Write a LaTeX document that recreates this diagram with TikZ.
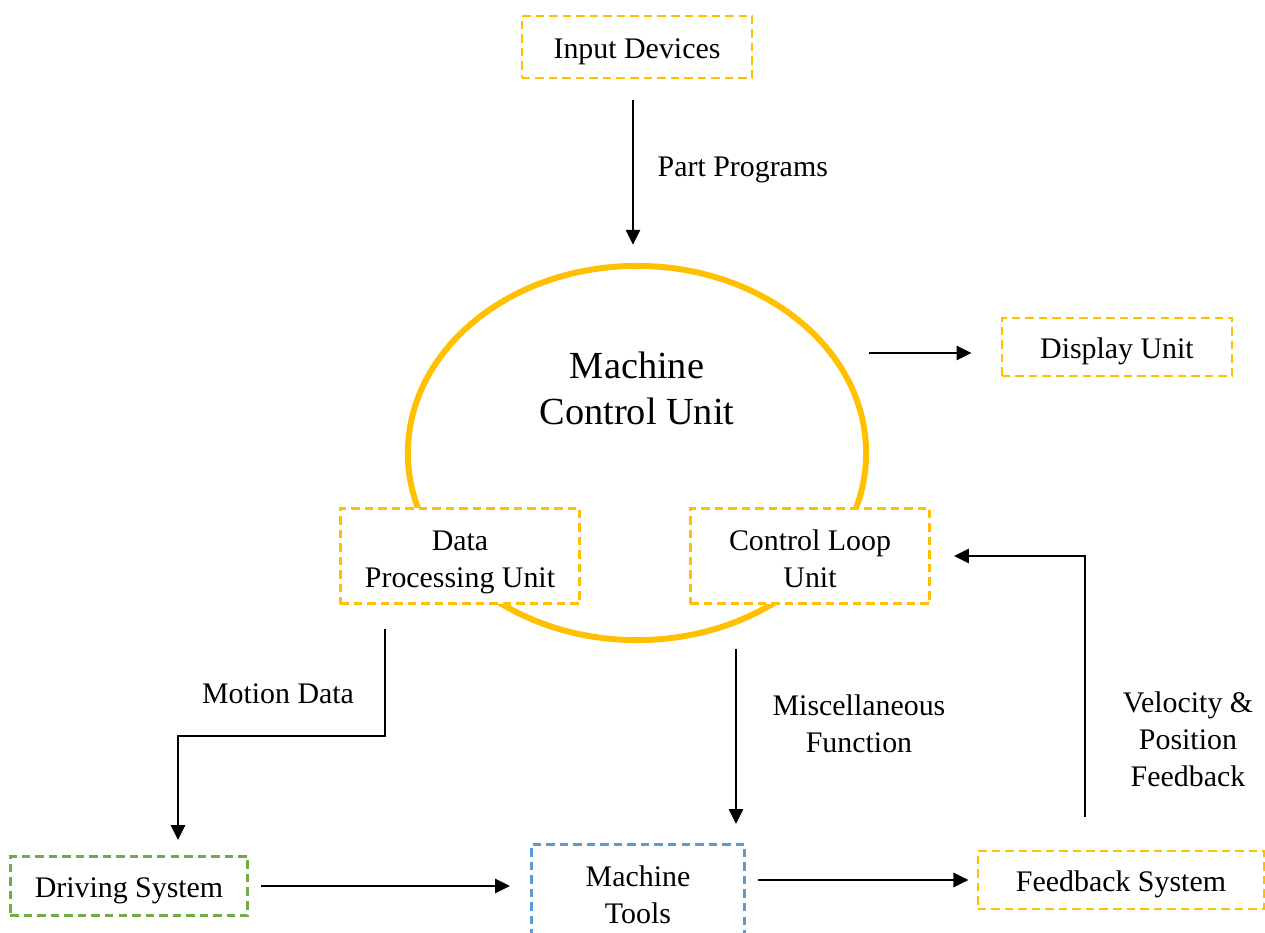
\documentclass[tikz,border=0pt]{standalone}
\usepackage{fontspec}
\setmainfont{Liberation Serif}
\usepackage{xcolor}
\usepackage{tikz}
\usetikzlibrary{positioning,shapes.geometric,arrows.meta}
\definecolor{gold}{HTML}{FFC000}
\definecolor{leaf}{HTML}{70AD47}
\definecolor{sky}{HTML}{5B9BD5}
% raises the first line of a stacked label so the block sits lower in its box
\newcommand{\capstrut}[1]{\rule{0pt}{#1}}

\begin{document}
\begin{tikzpicture}[
        x=0.01cm, y=-0.01cm,
        every node/.style={
            align=center,
            inner sep=0pt,
            font=\fontsize{8.5}{10.5}\selectfont
        },
        unit/.style={
            rectangle,
            draw=gold,
            line width=0.8pt,
            dash pattern=on 0.085cm off 0.05cm,
            fill=white,
            execute at begin node={\capstrut{8.1pt}}
        },
        arrow/.style={
            -{Triangle[length=0.15cm,width=0.14cm]},
            line width=0.75pt,
            color=black
        }
    ]
        \useasboundingbox (0,0) rectangle (1265,933);

        \node (mcu) [ellipse, draw=gold, line width=1.7pt, minimum width=4.58cm, minimum height=3.74cm] at (637,453) {};
        \node (mcutext) [font=\fontsize{10.9}{13.1}\selectfont] at (637,388) {Machine\\Control Unit};

        \node (input) [unit, minimum width=2.3cm, minimum height=0.62cm] at (637,47) {Input Devices};
        \node (display) [unit, minimum width=2.3cm, minimum height=0.58cm] at (1117,347) {Display Unit};
        \node (dpu) [unit, minimum width=2.39cm, minimum height=0.95cm] at (460,556) {\capstrut{9.4pt}Data\\Processing Unit};
        \node (clu) [unit, minimum width=2.39cm, minimum height=0.95cm] at (810,556) {\capstrut{7.7pt}Control Loop\\Unit};
        \node (drive) [unit, draw=leaf, minimum width=2.37cm, minimum height=0.59cm] at (129,886) {Driving System};
        \node (tools) [unit, draw=sky, minimum width=2.13cm, minimum height=0.97cm] at (638,893) {\capstrut{7pt}Machine\\Tools};
        \node (fb) [unit, minimum width=2.86cm, minimum height=0.58cm] at (1121,880) {Feedback System};

        \node (parts) [anchor=west] at (657,170) {Part Programs};
        \node (motion) at (278,694) {Motion Data};
        \node (misc) at (859,724) {Miscellaneous\\Function};
        \node (vel) at (1188,739) {Velocity \&\\Position\\Feedback};

        \coordinate (miscstart) at ([shift={(-74,44)}]clu.south);
        \coordinate (showstart) at ([yshift=-0.06cm]mcu.east |- display.west);

        \draw[arrow, shorten <=0.21cm, shorten >=0.18cm] ([xshift=-0.04cm]input.south) -- ([xshift=-0.04cm]mcu.north);
        \draw[arrow, shorten >=0.29cm] (showstart) -- (showstart -| display.west);
        \draw[arrow] ([shift={(-75,24)}]dpu.south) -- ++(0,107) -| ([shift={(49,-15)}]drive.north);
        \draw[arrow, shorten <=0.12cm, shorten >=0.2cm] (drive.east) -- (drive.east -| tools.west);
        \draw[arrow, shorten >=0.19cm] (miscstart) -- (miscstart |- tools.north);
        \draw[arrow, shorten <=0.12cm, shorten >=0.08cm] (tools.east |- fb.west) -- (fb.west);
        \draw[arrow, shorten >=0.23cm] ([shift={(-36,-33)}]fb.north) |- (clu.east);
    \end{tikzpicture}
\end{document}
